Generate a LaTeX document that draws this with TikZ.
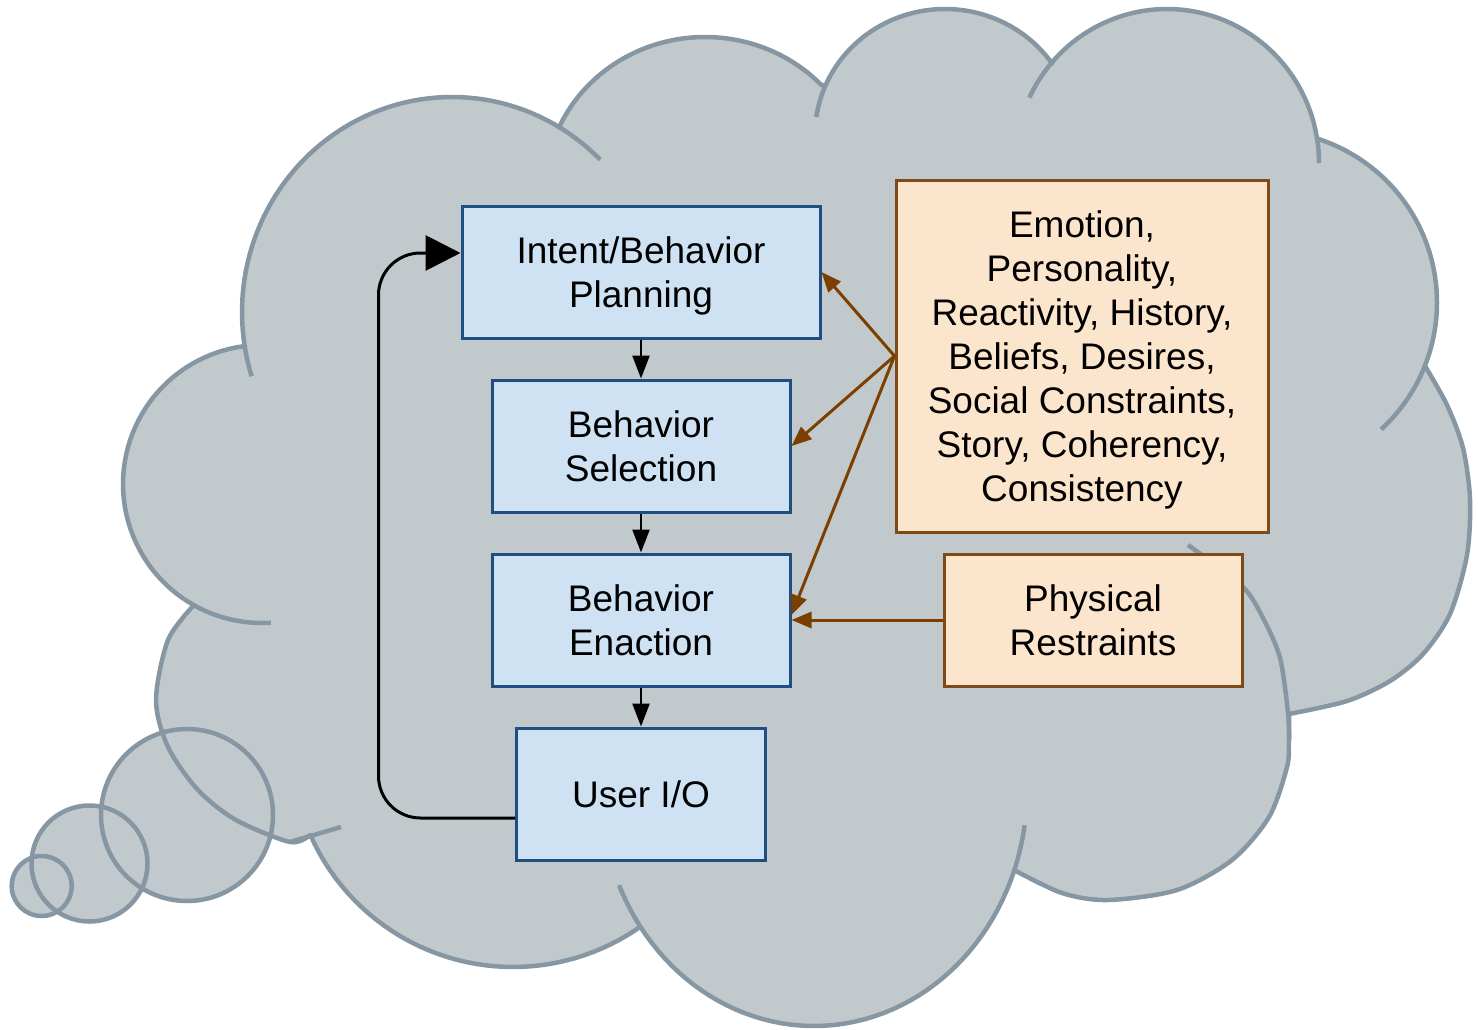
\documentclass[tikz,border=0pt]{standalone}
\usepackage{fontspec}
\setmainfont{Liberation Sans}
\usetikzlibrary{arrows.meta}

\definecolor{cloudfill}{HTML}{C2C9CD}
\definecolor{cloudline}{HTML}{8696A3}
\definecolor{boxblue}{HTML}{CFE2F3}
\definecolor{boxblueline}{HTML}{1F4E80}
\definecolor{boxorange}{HTML}{FCE5CD}
\definecolor{boxorangeline}{HTML}{7F4A17}
\definecolor{influence}{HTML}{7B3F00}

\tikzset{
  cloudbody/.style={fill=cloudfill, draw=cloudline, line width=4.5pt, line join=round},
  cloudstub/.style={draw=cloudline, line width=4.5pt, line cap=butt},
  bubble/.style={draw=cloudline, line width=4.5pt},
  basebox/.style={rectangle, align=center, line width=3pt,
    font=\fontsize{37}{44}\selectfont, inner sep=0pt, text depth=0pt},
  stagebox/.style={basebox, fill=boxblue, draw=boxblueline, minimum height=132pt},
  factorbox/.style={basebox, fill=boxorange, draw=boxorangeline},
  flowarrow/.style={draw=black, line width=2.5pt,
    -{Triangle[length=23pt,width=17pt]}},
  looparrow/.style={draw=black, line width=3pt, rounded corners=42pt,
    -{Triangle[length=35pt,width=35pt]}},
  influencearrow/.style={draw=influence, line width=3pt,
    -{Triangle[length=20pt,width=16pt]}},
}

\begin{document}
\begin{tikzpicture}[x=1pt, y=-1pt]
\useasboundingbox (0,0) rectangle (1478,1030);

% thought bubbles: fills first
\fill[cloudfill] (187,815) circle[radius=86pt];
\fill[cloudfill] (89.5,863.5) circle[radius=58pt];
\fill[cloudfill] (41.7,886) circle[radius=30pt];

% cloud outline, lobe by lobe (clockwise from the upper-left lobe)
\path[cloudbody]
  plot[domain=170.9:301.4, samples=60, variable=\t] ({452+210*cos(\t)},{312+215*sin(\t)})
  -- plot[domain=204.7:316.8, samples=50, variable=\t] ({705+160*cos(\t)},{190+153*sin(\t)})
  -- plot[domain=203.4:325.5, samples=50, variable=\t] ({945+130*cos(\t)},{135+126*sin(\t)})
  -- plot[domain=220.9:350.9, samples=50, variable=\t] ({1167+152*cos(\t)},{163+154*sin(\t)})
  -- plot[domain=-71.5:21.7, samples=40, variable=\t] ({1265+172*cos(\t)},{302.5+172*sin(\t)})
  -- plot[smooth] coordinates {(1425,366) (1447,405) (1463,448) (1470,499) (1467,555) (1450,614) (1423,654) (1390,681) (1347,701) (1289,714)}
  -- plot[smooth] coordinates {(1289,714) (1289,740) (1287,767) (1269,817) (1232,860) (1177,890) (1108,900) (1062,893) (1014,870)}
  -- plot[domain=19.9:144.7, samples=50, variable=\t] ({814+213*cos(\t)},{790+236*sin(\t)})
  -- plot[domain=55.95:156.1, samples=40, variable=\t] ({513+221.5*cos(\t)},{745.5+221.5*sin(\t)})
  -- plot[smooth] coordinates {(310,835) (290,842) (236,820) (198,790) (168,747) (156,700) (168,640) (194,605)}
  -- plot[domain=119.3:263, samples=50, variable=\t] ({262+139*cos(\t)},{484+139*sin(\t)})
  -- cycle;

% inner arcs where the lobes overlap
\path[cloudstub] plot[domain=162.6:170.9, samples=8, variable=\t] ({452+210*cos(\t)},{312+215*sin(\t)});
\path[cloudstub] plot[domain=301.4:314.9, samples=10, variable=\t] ({452+210*cos(\t)},{312+215*sin(\t)});
\path[cloudstub] plot[domain=188.2:203.4, samples=10, variable=\t] ({945+130*cos(\t)},{135+126*sin(\t)});
\path[cloudstub] plot[domain=205.1:220.9, samples=10, variable=\t] ({1167+152*cos(\t)},{163+154*sin(\t)});
\path[cloudstub] plot[domain=350.9:360, samples=8, variable=\t] ({1167+152*cos(\t)},{163+154*sin(\t)});
\path[cloudstub] plot[domain=21.7:47.5, samples=15, variable=\t] ({1265+172*cos(\t)},{302.5+172*sin(\t)});
\path[cloudstub] plot[smooth] coordinates {(1188,545) (1242,586) (1263,618) (1280,658) (1288,713) (1289,740)};
\path[cloudstub] plot[domain=8.6:19.9, samples=8, variable=\t] ({814+213*cos(\t)},{790+236*sin(\t)});
\path[cloudstub] plot[domain=144.7:156.2, samples=8, variable=\t] ({814+213*cos(\t)},{790+236*sin(\t)});
\path[cloudstub] plot[smooth] coordinates {(290,842) (307,837) (341,827)};
\path[cloudstub] plot[domain=86.3:119.3, samples=15, variable=\t] ({262+139*cos(\t)},{484+139*sin(\t)});

% thought bubble outlines
\draw[bubble] (187,815) circle[radius=86pt];
\draw[bubble] (89.5,863.5) circle[radius=58pt];
\draw[bubble] (41.7,886) circle[radius=30pt];

% processing stages
\node[stagebox, minimum width=358pt] (plan) at (641,272) {Intent/Behavior\\Planning};
\node[stagebox, minimum width=298pt] (sel) at (641,446) {Behavior\\Selection};
\node[stagebox, minimum width=298pt] (enact) at (641,620) {Behavior\\Enaction};
\node[stagebox, minimum width=249pt] (uio) at (641,794) {User I/O};

% influencing factors
\node[factorbox, minimum width=372pt, minimum height=352pt] (emo) at (1082,356)
  {Emotion,\\Personality,\\Reactivity, History,\\Beliefs, Desires,\\Social Constraints,\\Story, Coherency,\\Consistency};
\node[factorbox, minimum width=298pt, minimum height=132pt] (phys) at (1093,620)
  {Physical\\Restraints};

% stage flow
\draw[flowarrow] (plan) -- (sel);
\draw[flowarrow] (sel) -- (enact);
\draw[flowarrow] (enact) -- (uio);
\draw[looparrow] ([yshift=-24pt]uio.west) -| ([xshift=-82pt,yshift=19pt]plan.west) -- ([yshift=19pt]plan.west);

% influences
\draw[influencearrow] (emo.west) -- (plan.east);
\draw[influencearrow] (emo.west) -- (sel.east);
\draw[influencearrow] (emo.west) -- ([yshift=5pt]enact.east);
\draw[influencearrow] (phys.west) -- (enact.east);
\end{tikzpicture}
\end{document}
